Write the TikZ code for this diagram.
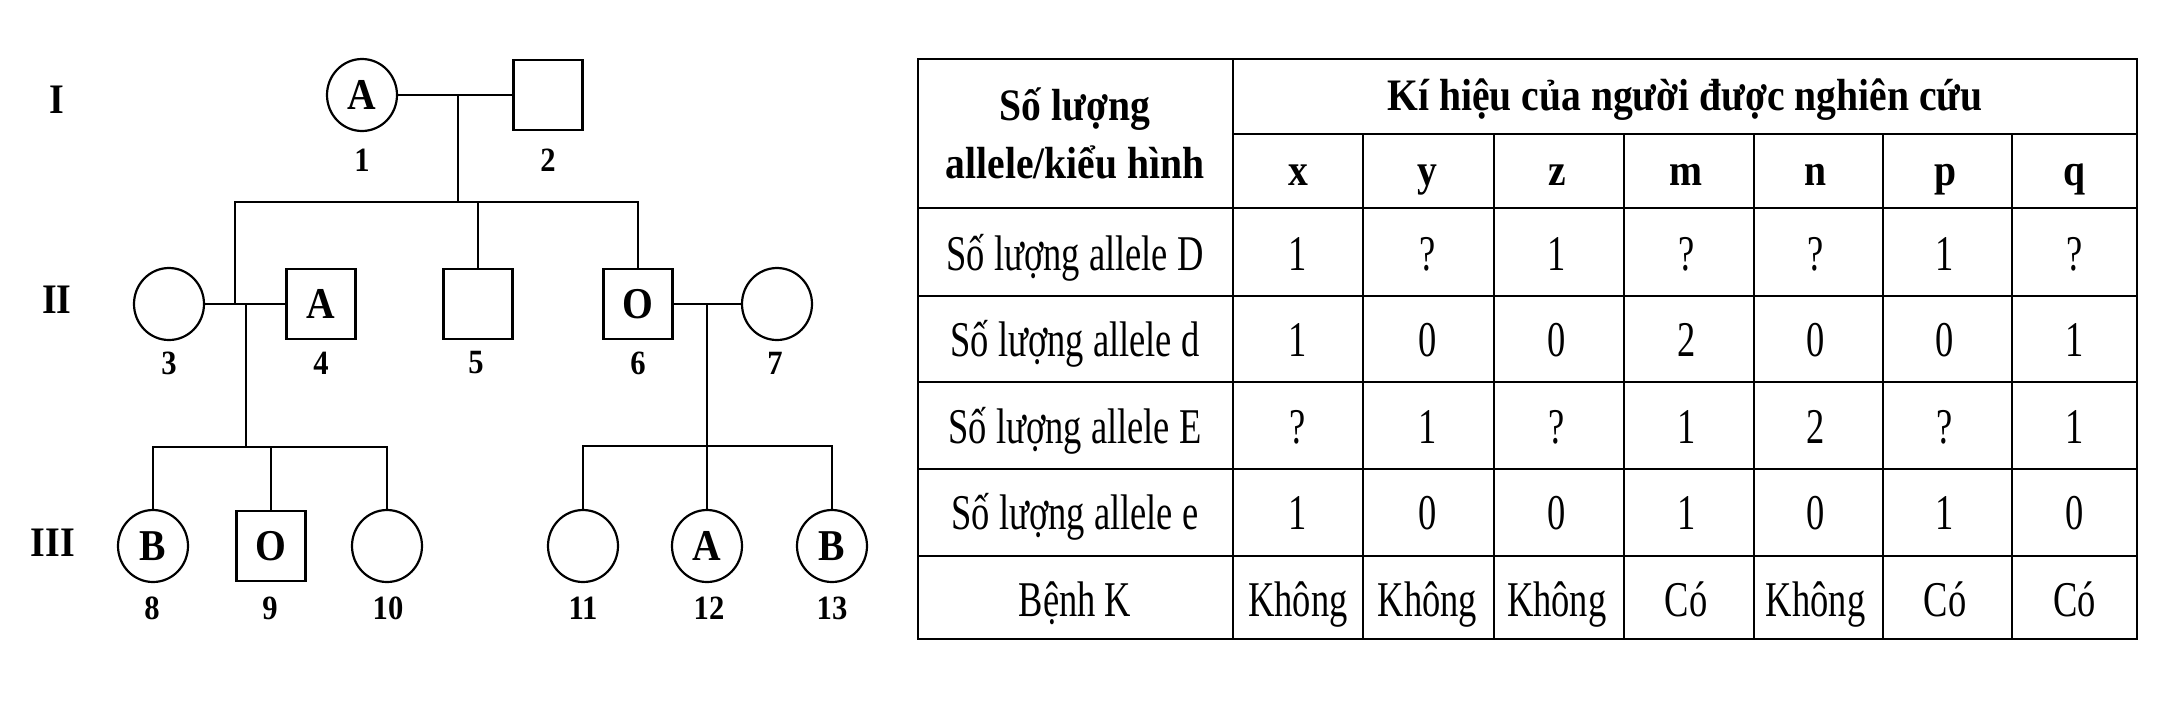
\documentclass[tikz,border=0pt]{standalone}
\usepackage{fontspec}
\setmainfont{Liberation Serif}[FakeStretch=0.9]
\newfontfamily\tabfont{Liberation Serif}[FakeStretch=0.73]
\newfontfamily\headfont{Liberation Serif}[FakeStretch=0.88]
\usetikzlibrary{shapes.geometric}

\begin{document}
\begin{tikzpicture}[
            x=1pt, y=-1pt,
            line width=2.2pt,
            female/.style={draw, ellipse, minimum width=70pt, minimum height=72pt, inner sep=0pt, font=\fontsize{44}{54}\selectfont\bfseries},
            male/.style={draw, rectangle, minimum width=69pt, minimum height=70pt, inner sep=0pt, font=\fontsize{44}{54}\selectfont\bfseries},
            num/.style={inner sep=0pt, font=\fontsize{34}{40}\selectfont\bfseries},
            gen/.style={inner sep=0pt, font=\fontsize{42}{50}\selectfont\bfseries},
            cell/.style={anchor=base, inner sep=0pt, font=\tabfont\fontsize{50}{60}\selectfont},
            headcell/.style={cell, font=\headfont\fontsize{45}{57}\selectfont\bfseries}
        ]
        \useasboundingbox (0,0) rectangle (2172,724);

        % generations
        \node[gen] (gI) at (57,100) {I};
        \node[gen] (gII) at (57,300) {II};
        \node[gen] (gIII) at (53,543) {III};

        % pedigree
        \node[female] (n1) at (362,95) {A};
        \node[male] (n2) at (548,95) {};
        \node[female] (n3) at (169,304) {};
        \node[male] (n4) at (321,304) {A};
        \node[male] (n5) at (478,304) {};
        \node[male] (n6) at (638,304) {O};
        \node[female] (n7) at (777,304) {};
        \node[female] (n8) at (153,546) {B};
        \node[male] (n9) at (271,546) {O};
        \node[female] (n10) at (387,546) {};
        \node[female] (n11) at (583,546) {};
        \node[female] (n12) at (707,546) {A};
        \node[female] (n13) at (832,546) {B};

        \foreach \i/\x/\y in {1/362/160, 2/548/160, 3/169/363, 4/321/363, 5/476/363, 6/638/363, 7/775/363,
                8/152/608, 9/270/608, 10/388/608, 11/583/608, 12/709/608, 13/832/608}
            \node[num] (t\i) at (\x,\y) {\i};

        \coordinate (m12) at (458,95);
        \coordinate (s1) at (458,202);
        \coordinate (c4) at (235,304);
        \coordinate (m34) at (246,304);
        \coordinate (s2) at (246,447);
        \coordinate (m67) at (707,304);
        \coordinate (s3) at (707,446);

        \draw (n1) -- (n2);
        \draw (m12) -- (s1);
        \draw (c4) -- (c4 |- s1) -- (n6.north |- s1) -- (n6.north);
        \draw (n5.north |- s1) -- (n5.north);
        \draw (n3) -- (n4);
        \draw (m34) -- (s2);
        \draw (n8.north) -- (n8.north |- s2) -- (n10.north |- s2) -- (n10.north);
        \draw (n9.north |- s2) -- (n9.north);
        \draw (n6) -- (n7);
        \draw (m67) -- (n12.north);
        \draw (n11.north) -- (n11.north |- s3) -- (n13.north |- s3) -- (n13.north);

        % table
        \draw[line width=2.6pt] (918,59) rectangle (2137,639);
        \draw (1233,134) -- (2137,134);
        \foreach \y in {208,296,382,469,556}
            \draw (918,\y) -- (2137,\y);
        \draw (1233,59) -- (1233,639);
        \foreach \x in {1363,1494,1624,1754,1883,2012}
            \draw (\x,134) -- (\x,639);

        \node[headcell] (hd1) at (1075,120) {Số lượng};
        \node[headcell] (hd2) at (1075,178) {allele/kiểu hình};
        \node[headcell] (kh) at (1685,110) {Kí hiệu của người được nghiên cứu};
        \foreach \s [count=\c] in {x,y,z,m,n,p,q}
            \node[headcell] (h\c) at ({1298+129.4*(\c-1)},185) {\s};

        \foreach \lab/\vals [count=\r] in {{Số lượng allele D}/{1,?,1,?,?,1,?},
                {Số lượng allele d}/{1,0,0,2,0,0,1},
                {Số lượng allele E}/{?,1,?,1,2,?,1},
                {Số lượng allele e}/{1,0,0,1,0,1,0},
                {Bệnh K}/{Không,Không,Không,Có,Không,Có,Có}} {
            \node[cell] (l\r) at (1075,{270+86.5*(\r-1)}) {\lab};
            \foreach \v [count=\c] in \vals
                \node[cell] (r\r-\c) at ({1298+129.4*(\c-1)},{270+86.5*(\r-1)}) {\v};
        }
    \end{tikzpicture}
\end{document}
